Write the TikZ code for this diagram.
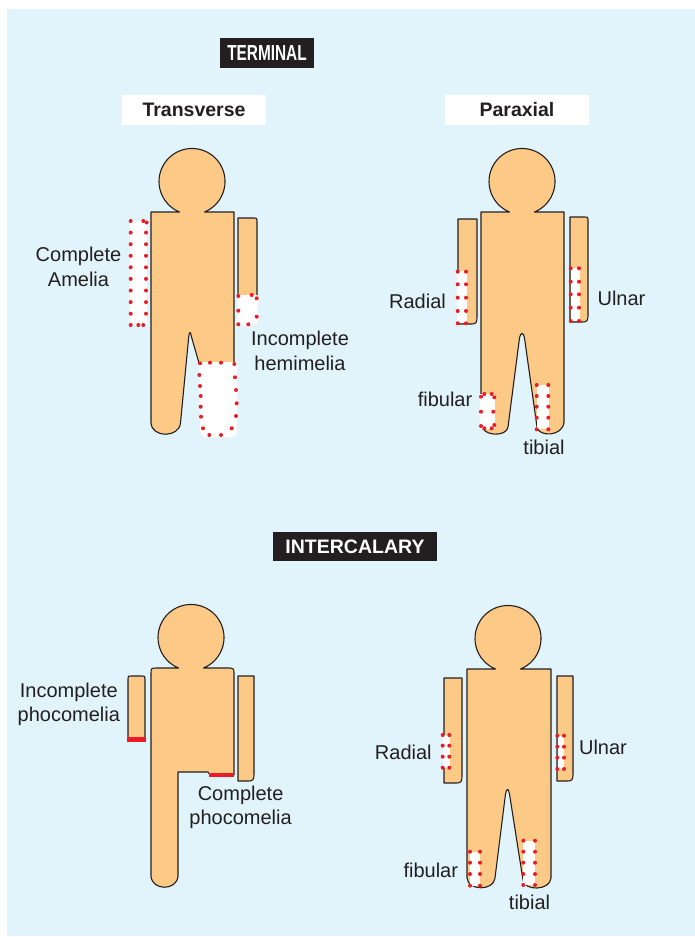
\documentclass[tikz,border=0pt]{standalone}
\usepackage{fontspec}
\setmainfont{Liberation Sans}
\usepackage{graphicx}

\definecolor{panelblue}{RGB}{225,244,251}
\definecolor{skinfill}{RGB}{253,201,134}
\definecolor{ink}{RGB}{35,31,32}
\definecolor{lesionred}{RGB}{237,28,36}

\newcommand\labelsize{\fontsize{20}{24.5}\selectfont}
\newcommand\tagsize{\fontsize{19.5}{22}\selectfont\bfseries}

% red dots marking a missing segment: list of x/y pairs
\newcommand\lesiondots[1]{\foreach \px/\py in {#1}{\fill[lesionred] (\px,\py) circle[radius=2pt];}}
% two vertical columns of red dots at x=#1 and x=#2, rows listed in #3
\newcommand\lesioncols[3]{\foreach \py in {#3}{\fill[lesionred] (#1,\py) circle[radius=2pt] (#2,\py) circle[radius=2pt];}}

\tikzset{
  skin/.style={fill=skinfill, draw=ink, line width=1.1pt, line join=round},
  gap/.style={fill=white, draw=none},
  cutbar/.style={draw=lesionred, line width=4.8pt},
  caption/.style={font=\labelsize, text=ink, align=center, inner sep=0pt},
  tagdark/.style={fill=ink, text=white, font=\tagsize, inner sep=0pt, minimum height=30pt},
  taglight/.style={fill=white, text=ink, font=\tagsize, inner sep=0pt, minimum height=30pt},
}

\begin{document}
\begin{tikzpicture}[x=1pt, y=-1pt]
\useasboundingbox (0,0) rectangle (695,937);
\fill[white] (0,0) rectangle (695,937);
\fill[panelblue] (7,9) rectangle (695,936);

% ---------------- headings ----------------
\node[tagdark, minimum width=94pt] (terminal) at (267,53)
  {\scalebox{0.75}[1.06]{\fontsize{20.5}{22}\selectfont TERMINAL}};
\node[taglight, minimum width=144pt] (transverse) at (194,110) {Transverse};
\node[taglight, minimum width=144pt] (paraxial) at (517,110) {Paraxial};
\node[tagdark, minimum width=164pt, minimum height=29pt] (intercalary) at (355,546.5) {INTERCALARY};

% ---------------- terminal transverse ----------------
\filldraw[skin] (151,212) -- (179.5,212) arc[start angle=112.3, end angle=427.7, radius=33]
  -- (234,212) -- (234,363) -- (199,363) -- (191.5,337)
  .. controls (190.5,331) and (189.5,331) .. (188.7,337) -- (180.5,423)
  .. controls (179,438) and (152,438) .. (151,423) -- cycle;
% right arm, forearm missing
\filldraw[skin] (238,296) -- (238,218) -- (254,218) .. controls (257,218) .. (257,221) -- (257,296);
\fill[gap] (237.5,295) -- (257.5,295) -- (257.5,318) .. controls (257.5,325) .. (251,325) -- (237.5,325) -- cycle;
\lesiondots{238.3/296, 251.7/295, 256.7/298.3, 238.3/310.7, 256.7/316.7, 238.3/324.3, 248.3/324.3}
% left arm absent
\fill[gap] (130,221) rectangle (147,325);
\lesioncols{130.7}{146}{232.6,244.2,255.8,267.3,278.9,290.5,302.1,313.7}
\lesiondots{130.7/221, 143.3/221, 146.7/222.5, 130.7/325, 138.3/325, 143.3/325}
% right leg missing
\fill[gap] (199,362) -- (237,362) -- (237,424) .. controls (237,437) .. (226,437)
  -- (209,437) .. controls (201,437) .. (200,428) -- cycle;
\lesiondots{200/363.3, 210/362.7, 221/362.7, 234.3/364, 199.3/375, 200/386, 200.7/396,
  200.7/406.7, 201/416.7, 203/428.3, 209.3/435, 221/435, 231.7/428.3,
  235/377.3, 236/390, 236.7/403.3, 236/416}

\node[caption] (amelia) at (78.5,267) {Complete\\Amelia};
\node[caption] (hemimelia) at (300,351) {Incomplete\\hemimelia};

% ---------------- terminal paraxial ----------------
\filldraw[skin] (481,212) -- (509.5,212) arc[start angle=112.3, end angle=427.7, radius=33]
  -- (564,212) -- (564,422) .. controls (563,437) and (538,437) .. (537,427)
  -- (524.5,338) .. controls (523.5,332) and (520.5,332) .. (519.5,338) -- (508,427)
  .. controls (507,437) and (482,437) .. (481,424) -- cycle;
\filldraw[skin] (458,219) -- (477,219) -- (477,314) .. controls (477,324) .. (469,324) -- (458,324) -- cycle;
\filldraw[skin] (570,217) -- (585,217) .. controls (588,217) .. (588,220) -- (588,312)
  .. controls (588,322) .. (580,322) -- (570,322) -- cycle;
% radial
\fill[gap] (456.5,271) rectangle (467,323.4);
\lesioncols{457.7}{466}{271.7,284.3,297.7,311,323.3}
% ulnar
\fill[gap] (570.6,267.5) rectangle (579.5,321.4);
\lesioncols{570.7}{579}{268.3,281.7,294.3,307.7,321}
% fibular
\fill[gap] (480,394) -- (494.5,394) -- (494.5,428.5) -- (480,428.5) -- cycle;
\lesiondots{481/396.7, 484.3/394, 491.7/394, 494.3/397.3, 481/411.7, 493.3/411.7,
  481/426, 484.3/428.3, 491.7/428.3, 494.3/425}
% tibial
\fill[gap] (536.5,385) rectangle (549,429.3);
\lesioncols{536.7}{548.3}{385,396,406.7,417.7,429.3}

\node[caption] (radialT) at (417.5,301) {Radial};
\node[caption] (ulnarT) at (621.5,298) {Ulnar};
\node[caption] (fibularT) at (445,399.5) {fibular};
\node[caption] (tibialT) at (544,447.7) {tibial};

% ---------------- intercalary transverse ----------------
\filldraw[skin] (151,680) -- (151,674) .. controls (151,668) .. (157,668) -- (178.5,668)
  arc[start angle=112.3, end angle=427.7, radius=33]
  -- (227,668) .. controls (234,668) .. (234,675) -- (234,775) -- (210,775) -- (208,772)
  -- (178,772) -- (178,876) .. controls (177,891) and (152,891) .. (151,876) -- cycle;
\filldraw[skin] (128,740) -- (128,679) .. controls (128,676) .. (131,676) -- (142,676)
  .. controls (145,676) .. (145,679) -- (145,740) -- cycle;
\filldraw[skin] (238,676) -- (254,676) -- (254,771) .. controls (254,781) .. (246,781) -- (238,781) -- cycle;
\draw[cutbar] (127,739.3) -- (146,739.3);
\draw[cutbar] (209.3,775) -- (233.5,775);

\node[caption] (phocoInc) at (68.8,704.5) {Incomplete\\phocomelia};
\node[caption] (phocoCom) at (240.6,807.2) {Complete\\phocomelia};

% ---------------- intercalary paraxial ----------------
\filldraw[skin] (467,669) -- (495.5,669) arc[start angle=112.3, end angle=427.7, radius=33]
  -- (551,669) -- (551,878) .. controls (550,891) and (524,891) .. (523,880)
  -- (509.5,794) .. controls (508.5,788) and (506.5,788) .. (505.5,794) -- (495,878)
  .. controls (494,891) and (468,891) .. (467,878) -- cycle;
\filldraw[skin] (444,678) -- (462,678) -- (462,773) .. controls (462,783) .. (454,783) -- (444,783) -- cycle;
\filldraw[skin] (557,676) -- (573,676) -- (573,771) .. controls (573,781) .. (565,781) -- (557,781) -- cycle;
% radial
\fill[gap] (442.5,734.5) rectangle (449.5,768);
\lesioncols{442.7}{449.3}{735,745.7,756.7,767.7}
% ulnar
\fill[gap] (557.6,735.5) rectangle (564,769);
\lesioncols{557.3}{564}{735.7,746.7,757.7,769}
% fibular
\fill[gap] (470,851.5) rectangle (480,886);
\lesioncols{470}{480}{851.7,862.7,874,885.7}
% tibial
\fill[gap] (523.3,840.5) rectangle (535,885);
\lesioncols{523.3}{535}{840.7,851.7,862.7,874,885}

\node[caption] (radialI) at (403.3,752.7) {Radial};
\node[caption] (ulnarI) at (603,747) {Ulnar};
\node[caption] (fibularI) at (430.8,870) {fibular};
\node[caption] (tibialI) at (529.5,902.7) {tibial};
\end{tikzpicture}
\end{document}
